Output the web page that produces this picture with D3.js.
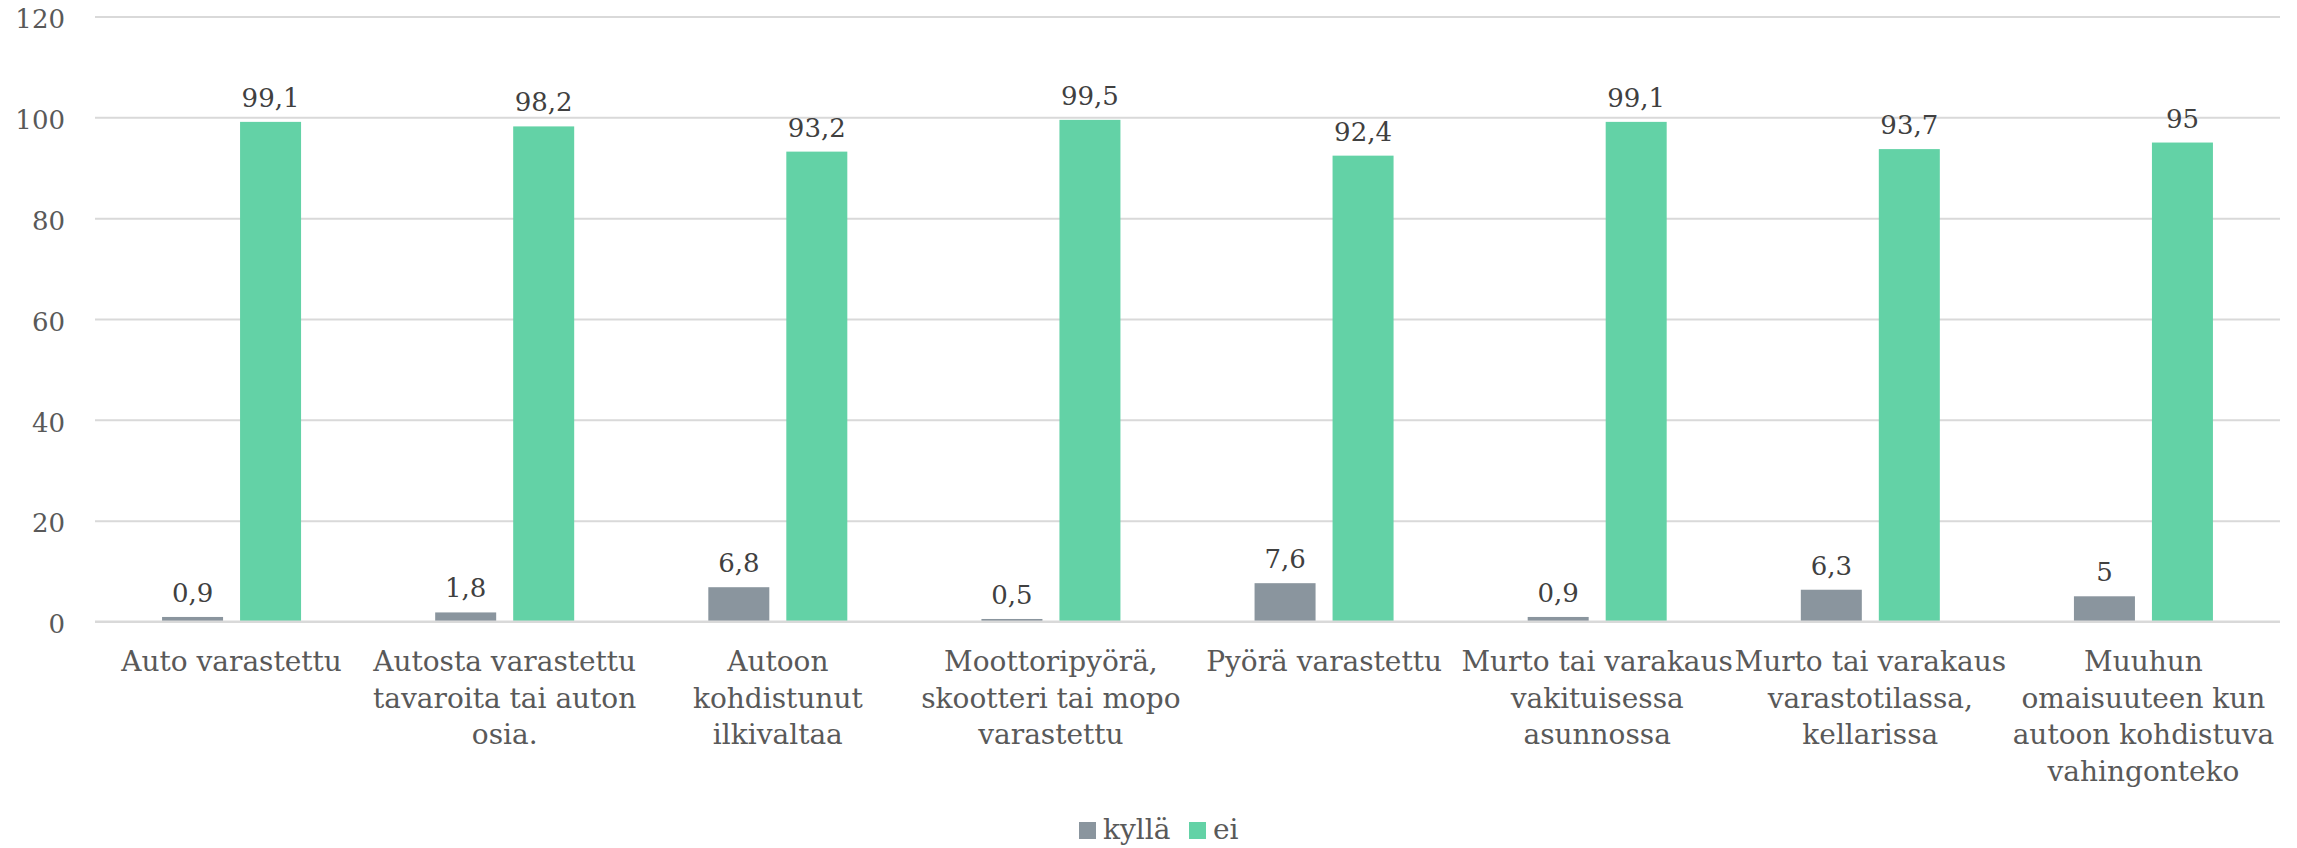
<!DOCTYPE html>
<html>
<head>
<meta charset="utf-8">
<script src="https://cdn.jsdelivr.net/npm/d3@7"></script>
<style>
  html, body { margin: 0; padding: 0; background: #ffffff; }
  svg { display: block; font-family: "DejaVu Serif", "Liberation Serif", serif; }
</style>
</head>
<body>
<svg id="chart" width="2297" height="848"></svg>
<script>
// ---- data ----
const categories = [
  "Auto varastettu",
  "Autosta varastettu\ntavaroita tai auton\nosia.",
  "Autoon\nkohdistunut\nilkivaltaa",
  "Moottoripyörä,\nskootteri tai mopo\nvarastettu",
  "Pyörä varastettu",
  "Murto tai varakaus\nvakituisessa\nasunnossa",
  "Murto tai varakaus\nvarastotilassa,\nkellarissa",
  "Muuhun\nomaisuuteen kun\nautoon kohdistuva\nvahingonteko"
];
const seriesNames = ["kyllä", "ei"];
const kyllaValues = [0.9, 1.8, 6.8, 0.5, 7.6, 0.9, 6.3, 5];
const eiValues = [99.1, 98.2, 93.2, 99.5, 92.4, 99.1, 93.7, 95];
const yTicks = [0, 20, 40, 60, 80, 100, 120];
const seriesColors = ["#8A959E", "#63D2A6"];

// ---- layout ----
const svg = d3.select("#chart");
const plot = { left: 95, right: 2280, top: 16.5, bottom: 621.5 };
const seriesValues = [kyllaValues, eiValues];

const x0 = d3.scaleBand().domain(categories).range([plot.left, plot.right]).padding(0);
const bw = x0.bandwidth();
const groupW = 139;
const x1 = d3.scaleBand().domain(seriesNames)
  .range([(bw - groupW) / 2, (bw + groupW) / 2])
  .paddingInner(17 / 78).paddingOuter(0);
const y = d3.scaleLinear().domain([0, 120]).range([plot.bottom, plot.top]);

const fmt = v => String(v).replace(".", ",");

// gridlines + y axis
const yAxis = d3.axisLeft(y)
  .tickValues(yTicks)
  .tickSizeInner(-(plot.right - plot.left))
  .tickSizeOuter(0)
  .tickPadding(30)
  .tickFormat(d => d);
const gy = svg.append("g").attr("transform", `translate(${plot.left},0)`).call(yAxis);
gy.select(".domain").remove();
gy.selectAll(".tick line").attr("stroke", "#D9D9D9").attr("stroke-width", 2);
gy.selectAll(".tick text")
  .attr("fill", "#595959")
  .attr("font-size", 26)
  .attr("font-family", "DejaVu Serif, serif")
  .attr("dy", "0.43em");

// bars
const groups = svg.append("g").selectAll("g")
  .data(categories)
  .join("g")
  .attr("transform", d => `translate(${x0(d)},0)`);

groups.selectAll("rect")
  .data((d, i) => seriesNames.map((s, j) => ({ s, j, v: seriesValues[j][i] })))
  .join("rect")
  .attr("x", d => x1(d.s))
  .attr("width", x1.bandwidth())
  .attr("y", d => y(d.v))
  .attr("height", d => y(0) - y(d.v))
  .attr("fill", d => seriesColors[d.j]);

groups.selectAll("text.lbl")
  .data((d, i) => seriesNames.map((s, j) => ({ s, j, v: seriesValues[j][i] })))
  .join("text")
  .attr("class", "lbl")
  .attr("x", d => x1(d.s) + x1.bandwidth() / 2)
  .attr("y", d => y(d.v) - 15)
  .attr("text-anchor", "middle")
  .attr("font-size", 26)
  .attr("fill", "#404040")
  .text(d => fmt(d.v));

// zero axis line redraw on top
svg.append("line")
  .attr("x1", plot.left).attr("x2", plot.right)
  .attr("y1", y(0)).attr("y2", y(0))
  .attr("stroke", "#D9D9D9").attr("stroke-width", 2);

// x category labels
const xl = svg.append("g");
categories.forEach(c => {
  const t = xl.append("text")
    .attr("text-anchor", "middle")
    .attr("font-size", 28)
    .attr("fill", "#595959");
  c.split("\n").forEach((line, k) => {
    t.append("tspan")
      .attr("x", x0(c) + bw / 2)
      .attr("y", 671 + k * 36.5)
      .text(line);
  });
});

// legend
const legend = svg.append("g");
const legendStarts = [1079, 1189];
seriesNames.forEach((s, j) => {
  legend.append("rect")
    .attr("x", legendStarts[j]).attr("y", 822)
    .attr("width", 17).attr("height", 17)
    .attr("fill", seriesColors[j]);
  legend.append("text")
    .attr("x", legendStarts[j] + 24).attr("y", 839)
    .attr("font-size", 28)
    .attr("fill", "#595959")
    .text(s);
});
</script>
</body>
</html>
